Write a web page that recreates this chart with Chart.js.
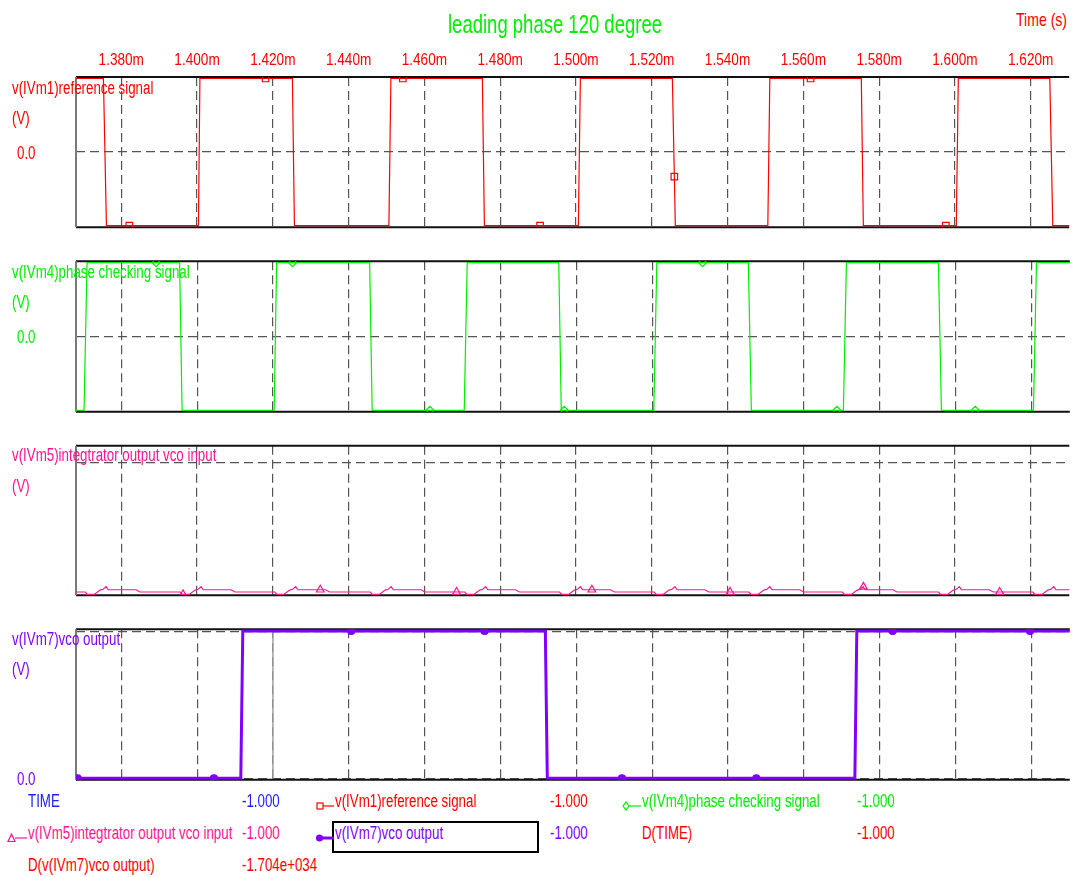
<!DOCTYPE html>
<html>
<head>
<meta charset="utf-8">
<script src="https://cdn.jsdelivr.net/npm/chart.js@4.4.1/dist/chart.umd.min.js"></script>
<style>
  body { margin: 0; background: #fff; width: 1075px; height: 877px; overflow: hidden; position: relative;
         font-family: 'Liberation Sans', Arial, sans-serif; }
  canvas { position: absolute; left: 0; }
  .t { position: absolute; white-space: nowrap; line-height: 20px; transform: scaleX(0.74);
       transform-origin: 0 50%; z-index: 5; }
  .g { position: absolute; z-index: 5; }
  #box { position: absolute; left: 332px; top: 821px; width: 207px; height: 32px; box-sizing: border-box;
         border: 2px solid #000; z-index: 4; }
</style>
</head>
<body>
<div id="box"></div>
<script>
// time axis (ms)
const timeTicks = [1.38, 1.40, 1.42, 1.44, 1.46, 1.48, 1.50, 1.52, 1.54, 1.56, 1.58, 1.60, 1.62];
const tMin = 1.36806, tMax = 1.63016;

// v(IVm1) reference signal
const refTimes = [1.3680, 1.37530, 1.37609, 1.40037, 1.40076, 1.42517, 1.42570, 1.45063, 1.45116, 1.47530,
  1.47583, 1.50063, 1.50116, 1.52544, 1.52622, 1.55063, 1.55116, 1.57530, 1.57583, 1.60037, 1.60090,
  1.62504, 1.62583, 1.6310];
const refValues = [0.98, 0.98, -1, -1, 0.98, 0.98, -1, -1, 0.98, 0.98, -1, -1,
  0.98, 0.98, -1, -1, 0.98, 0.98, -1, -1, 0.98, 0.98, -1, -1];
const refMarkerTimes = [1.38213, 1.41808, 1.45431, 1.49053, 1.52596, 1.56192, 1.59761];

// v(IVm4) phase checking signal
const phaseTimes = [1.3680, 1.37018, 1.37097, 1.39538, 1.39604, 1.42032, 1.42097, 1.44551, 1.44617, 1.47045,
  1.47124, 1.49538, 1.49604, 1.52045, 1.52124, 1.54538, 1.54617, 1.57045, 1.57124, 1.59551, 1.59630,
  1.62058, 1.62137, 1.6310];
const phaseValues = [-0.98, -0.98, 0.98, 0.98, -0.98, -0.98, 0.98, 0.98, -0.98, -0.98, 0.98, 0.98,
  -0.98, -0.98, 0.98, 0.98, -0.98, -0.98, 0.98, 0.98, -0.98, -0.98, 0.98, 0.98];
const phaseMarkerTimes = [1.38921, 1.42517, 1.46139, 1.49683, 1.53331, 1.56874, 1.60523];

// v(IVm5) integrator output / vco input
const integTimes = [1.3680,
  1.37050, 1.37102, 1.37286, 1.37443, 1.37522, 1.37601, 1.37654, 1.38388, 1.38493,
  1.39557, 1.39609, 1.39793, 1.39950, 1.40029, 1.40108, 1.40161, 1.40895, 1.41000,
  1.42053, 1.42105, 1.42289, 1.42446, 1.42525, 1.42604, 1.42657, 1.43391, 1.43496,
  1.44572, 1.44624, 1.44808, 1.44965, 1.45044, 1.45123, 1.45176, 1.45910, 1.46015,
  1.47066, 1.47118, 1.47302, 1.47459, 1.47538, 1.47617, 1.47670, 1.48404, 1.48509,
  1.49567, 1.49619, 1.49803, 1.49960, 1.50039, 1.50118, 1.50171, 1.50905, 1.51010,
  1.52061, 1.52113, 1.52297, 1.52454, 1.52533, 1.52612, 1.52665, 1.53399, 1.53504,
  1.54565, 1.54617, 1.54801, 1.54958, 1.55037, 1.55116, 1.55169, 1.55903, 1.56008,
  1.57027, 1.57079, 1.57263, 1.57420, 1.57499, 1.57578, 1.57631, 1.58365, 1.58470,
  1.59565, 1.59617, 1.59801, 1.59958, 1.60037, 1.60116, 1.60169, 1.60903, 1.61008,
  1.62058, 1.62110, 1.62294, 1.62451, 1.62530, 1.62609, 1.62662, 1.63396, 1.63501];
const integValues = [0.022,
  0.022, 0.006, 0.006, 0.035, 0.040, 0.058, 0.037, 0.037, 0.022,
  0.022, 0.006, 0.006, 0.035, 0.040, 0.058, 0.037, 0.037, 0.022,
  0.022, 0.006, 0.006, 0.035, 0.040, 0.058, 0.037, 0.037, 0.022,
  0.022, 0.006, 0.006, 0.035, 0.040, 0.058, 0.037, 0.037, 0.022,
  0.022, 0.006, 0.006, 0.035, 0.040, 0.058, 0.037, 0.037, 0.022,
  0.022, 0.006, 0.006, 0.035, 0.040, 0.058, 0.037, 0.037, 0.022,
  0.022, 0.006, 0.006, 0.035, 0.040, 0.058, 0.037, 0.037, 0.022,
  0.022, 0.006, 0.006, 0.035, 0.040, 0.058, 0.037, 0.037, 0.022,
  0.022, 0.006, 0.006, 0.035, 0.040, 0.058, 0.037, 0.037, 0.022,
  0.022, 0.006, 0.006, 0.035, 0.040, 0.058, 0.037, 0.037, 0.022,
  0.022, 0.006, 0.006, 0.035, 0.040, 0.058, 0.037, 0.037, 0.022];
const integMarkerTimes = [1.39630, 1.43252, 1.46848, 1.50418, 1.54066, 1.57583, 1.61179];

// v(IVm7) vco output
const vcoTimes = [1.3680, 1.41152, 1.41205, 1.49184, 1.49236, 1.57347, 1.57399, 1.6310];
const vcoValues = [0, 0, 1.005, 1.005, 0, 0, 1.005, 1.005];
const vcoMarkerTimes = [1.36848, 1.40444, 1.44066, 1.47583, 1.51205, 1.54748, 1.58344, 1.61966];

const cursorTime = 1.42;

const red = '#ff0000', green = '#00ee00', pink = '#ff1493', purple = '#7f00ff', blue = '#2020ff';

function series(times, values) {
  return times.map((t, i) => ({ x: t, y: values[i] }));
}

function valueAt(times, values, t) {
  for (let i = 1; i < times.length; i++) {
    if (t <= times[i]) {
      const f = (t - times[i - 1]) / (times[i] - times[i - 1]);
      return values[i - 1] + f * (values[i] - values[i - 1]);
    }
  }
  return values[values.length - 1];
}

const fmtTime = v => v.toFixed(3) + 'm';

const framePlugin = {
  id: 'frame',
  beforeDatasetsDraw(chart, args, opts) {
    const { ctx, chartArea: a } = chart;
    ctx.save();
    if (opts.cursor !== undefined) {
      const x = chart.scales.x.getPixelForValue(opts.cursor);
      ctx.strokeStyle = '#a0a0a0';
      ctx.lineWidth = 1.5;
      ctx.beginPath(); ctx.moveTo(x, a.top); ctx.lineTo(x, a.bottom); ctx.stroke();
    }
    ctx.lineWidth = 2;
    ctx.strokeStyle = '#111';
    ctx.beginPath();
    ctx.moveTo(a.left, a.top); ctx.lineTo(a.right, a.top);
    ctx.moveTo(a.left, a.bottom); ctx.lineTo(a.right, a.bottom);
    ctx.stroke();
    ctx.strokeStyle = '#7a7a7a';
    ctx.beginPath(); ctx.moveTo(a.left, a.top); ctx.lineTo(a.left, a.bottom); ctx.stroke();
    ctx.restore();
  },
  // condensed time labels above the top panel, placed at the x scale's ticks
  afterDraw(chart, args, opts) {
    if (!opts.timeLabels) return;
    const { ctx, chartArea: a } = chart;
    const xs = chart.scales.x;
    ctx.save();
    ctx.fillStyle = red;
    ctx.font = "17px 'Liberation Sans', Arial, sans-serif";
    ctx.textAlign = 'center';
    ctx.textBaseline = 'middle';
    xs.ticks.forEach(tk => {
      ctx.save();
      ctx.translate(xs.getPixelForValue(tk.value), a.top - 17);
      ctx.scale(0.8, 1);
      ctx.fillText(fmtTime(tk.value), 0, 0);
      ctx.restore();
    });
    ctx.restore();
  }
};

function makePanel(o) {
  const axisTop = !!o.canvasTop;
  const padTop = axisTop ? 0 : 3, padBottom = 3;
  const canvasTop = axisTop ? o.canvasTop : o.top - padTop;
  const axisH = axisTop ? o.top - o.canvasTop : 0;
  const cv = document.createElement('canvas');
  cv.width = 1075;
  cv.height = o.bottom - canvasTop + padBottom;
  cv.style.top = canvasTop + 'px';
  document.body.appendChild(cv);

  new Chart(cv, {
    type: 'line',
    data: {
      datasets: [
        {
          data: series(o.times, o.values),
          borderColor: o.color, borderWidth: o.lineWidth || 1.2,
          pointRadius: 0, tension: 0, fill: false
        },
        {
          data: o.markers.map(t => ({ x: t, y: valueAt(o.times, o.values, t) })),
          showLine: false, pointStyle: o.pointStyle, pointRadius: o.pointRadius,
          borderColor: o.color, backgroundColor: o.filled ? o.color : 'rgba(255,255,255,0)',
          pointBorderWidth: 1.2
        }
      ]
    },
    options: {
      responsive: false,
      animation: false,
      events: [],
      layout: { padding: { top: padTop, bottom: padBottom, left: 0, right: 0 } },
      plugins: {
        legend: { display: false }, tooltip: { enabled: false },
        frame: { cursor: o.cursor, timeLabels: axisTop }
      },
      scales: {
        x: {
          type: 'linear', min: tMin, max: tMax,
          position: axisTop ? 'top' : 'bottom',
          afterBuildTicks: s => { s.ticks = timeTicks.map(v => ({ value: v })); },
          afterFit: s => { s.height = axisH; },
          grid: { color: '#555', lineWidth: 1.2, drawTicks: false },
          border: { display: false, dash: [9, 5] },
          ticks: { display: false, autoSkip: false, callback: fmtTime }
        },
        y: {
          type: 'linear', min: o.yMin, max: o.yMax,
          afterBuildTicks: s => { s.ticks = o.yGrid.map(v => ({ value: v })); },
          afterFit: s => { s.width = 76; },
          grid: { color: '#555', lineWidth: 1.2, drawTicks: false },
          border: { display: false, dash: [9, 5] },
          ticks: { display: false }
        }
      }
    },
    plugins: [framePlugin]
  });
}

makePanel({ canvasTop: 30, top: 77, bottom: 230, yMin: -1.02, yMax: 1, yGrid: [0],
  times: refTimes, values: refValues, markers: refMarkerTimes, color: red,
  pointStyle: 'rect', pointRadius: 4.6 });
makePanel({ top: 259, bottom: 414, yMin: -1, yMax: 1, yGrid: [0],
  times: phaseTimes, values: phaseValues, markers: phaseMarkerTimes, color: green,
  pointStyle: 'rectRot', pointRadius: 4 });
makePanel({ top: 443, bottom: 598, yMin: 0, yMax: 1, yGrid: [0.884],
  times: integTimes, values: integValues, markers: integMarkerTimes, color: pink,
  pointStyle: 'triangle', pointRadius: 4.5 });
makePanel({ top: 627, bottom: 782, yMin: -0.01, yMax: 1.017, yGrid: [0, 1],
  times: vcoTimes, values: vcoValues, markers: vcoMarkerTimes, color: purple,
  pointStyle: 'circle', pointRadius: 3.5, filled: true, lineWidth: 3, cursor: cursorTime });

// text labels: [text, left x, centre y, colour, size]
const labels = [
  ['leading phase 120 degree', 448, 25, green, 25],
  ['Time (s)', 1016, 20, red, 19],
  ['v(IVm1)reference signal', 12, 89, red, 18],
  ['(V)', 12, 118.3, red, 18],
  ['0.0', 17, 153.3, red, 18],
  ['v(IVm4)phase checking signal', 12, 272.3, green, 18],
  ['(V)', 12, 302.3, green, 18],
  ['0.0', 17, 337.3, green, 18],
  ['v(IVm5)integtrator output vco input', 12, 456, pink, 18],
  ['(V)', 12, 486.7, pink, 18],
  ['v(IVm7)vco output', 12, 640, purple, 18],
  ['(V)', 12, 670, purple, 18],
  ['0.0', 17, 780, purple, 18],
  ['TIME', 27.5, 801.5, blue, 18],
  ['-1.000', 242, 801.5, blue, 18],
  ['v(IVm1)reference signal', 334.5, 801.5, red, 18],
  ['-1.000', 549.5, 801.5, red, 18],
  ['v(IVm4)phase checking signal', 641.5, 801.5, green, 18],
  ['-1.000', 856.5, 801.5, green, 18],
  ['v(IVm5)integtrator output vco input', 27.5, 833.5, pink, 18],
  ['-1.000', 242, 833.5, pink, 18],
  ['v(IVm7)vco output', 335, 833.5, purple, 18],
  ['-1.000', 549.5, 833.5, purple, 18],
  ['D(TIME)', 642, 833.5, red, 18],
  ['-1.000', 856.5, 833.5, red, 18],
  ['D(v(IVm7)vco output)', 27.5, 866, red, 18],
  ['-1.704e+034', 242, 866, red, 18]
];

labels.forEach(([text, x, y, color, size]) => {
  const d = document.createElement('div');
  d.className = 't';
  d.textContent = text;
  const lh = Math.round(size * 1.12);
  d.style.fontSize = size + 'px';
  d.style.lineHeight = lh + 'px';
  d.style.color = color;
  d.style.left = x + 'px';
  d.style.top = (y - lh * 0.5 - size * 0.04) + 'px';
  document.body.appendChild(d);
});

// legend glyphs (marker + short line)
const glyphs = [
  [316, 801.5, red, '<rect x="1" y="2" width="6" height="6" fill="none" stroke="' + red + '" stroke-width="1.2"/><line x1="7" y1="5" x2="18" y2="5" stroke="' + red + '" stroke-width="1.2"/>'],
  [622, 801.5, green, '<path d="M4 1 L7 5 L4 9 L1 5 Z" fill="none" stroke="' + green + '" stroke-width="1.2"/><line x1="7" y1="5" x2="19" y2="5" stroke="' + green + '" stroke-width="1.2"/>'],
  [7, 833.5, pink, '<path d="M4.5 1 L8 8.5 L1 8.5 Z" fill="none" stroke="' + pink + '" stroke-width="1.2"/><line x1="8" y1="5" x2="20" y2="5" stroke="' + pink + '" stroke-width="1.2"/>'],
  [315, 833.5, purple, '<circle cx="4.5" cy="5" r="3.5" fill="' + purple + '"/><line x1="7" y1="5" x2="19" y2="5" stroke="' + purple + '" stroke-width="3"/>']
];
glyphs.forEach(([x, y, c, inner]) => {
  const s = document.createElement('div');
  s.className = 'g';
  s.style.left = x + 'px';
  s.style.top = (y - 5) + 'px';
  s.innerHTML = '<svg width="20" height="10" xmlns="http://www.w3.org/2000/svg">' + inner + '</svg>';
  document.body.appendChild(s);
});
</script>
</body>
</html>
